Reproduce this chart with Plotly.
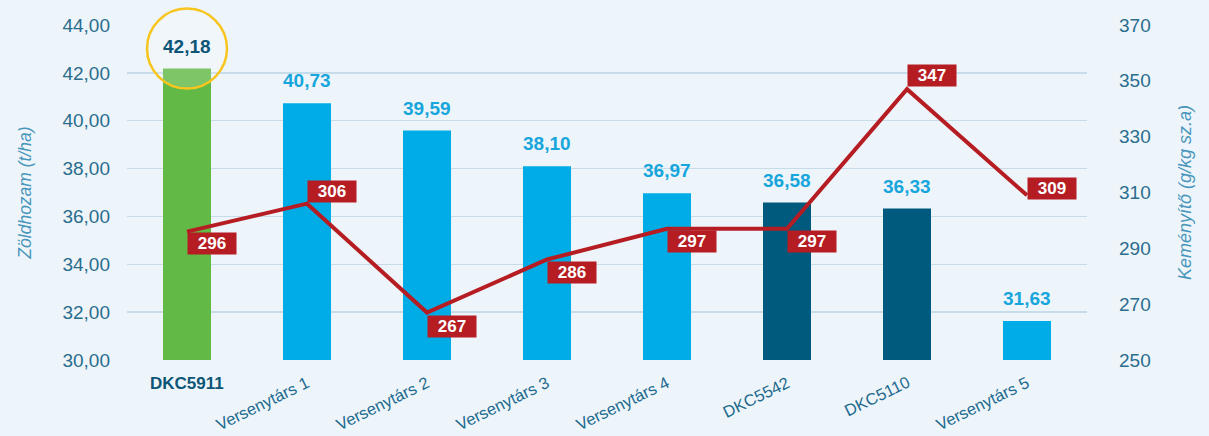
import plotly.graph_objects as go

categories = ["DKC5911", "Versenytárs 1", "Versenytárs 2", "Versenytárs 3",
              "Versenytárs 4", "DKC5542", "DKC5110", "Versenytárs 5"]
yield_values = [42.18, 40.73, 39.59, 38.10, 36.97, 36.58, 36.33, 31.63]
starch_values = [296, 306, 267, 286, 297, 297, 347, 309]
left_ticks = [30, 32, 34, 36, 38, 40, 42, 44]
right_ticks = [250, 270, 290, 310, 330, 350, 370]

# styling (not data)
bar_colors = ["#62b946", "#00ace6", "#00ace6", "#00ace6", "#00ace6",
              "#005a7e", "#005a7e", "#00ace6"]
label_yshift = [-12, 12, -14, -13, -13, -13, 14, 7]

FONT = "Liberation Sans, Arial, Helvetica, sans-serif"
TICK_COLOR = "#2a6d8e"
RED = "#b51d23"
Y_RANGE = [30, 44]

fig = go.Figure()
fig.add_trace(go.Bar(x=categories, y=yield_values, marker=dict(color=bar_colors, line=dict(width=0)),
                     width=0.4, yaxis="y", showlegend=False, hoverinfo="skip"))
fig.add_trace(go.Scatter(x=categories, y=starch_values, mode="lines", yaxis="y2",
                         line=dict(color=RED, width=4), showlegend=False, hoverinfo="skip"))

fmt = lambda v: f"{v:.2f}".replace(".", ",")

# bar value labels
for i, (c, v) in enumerate(zip(categories, yield_values)):
    fig.add_annotation(x=c, y=v, xref="x", yref="y", text=f"<b>{fmt(v)}</b>",
                       showarrow=False, yanchor="bottom", yshift=10,
                       font=dict(family=FONT, size=19, color="#0d5577" if i == 0 else "#17a6dc"))

# line value labels
for c, v, ys in zip(categories, starch_values, label_yshift):
    fig.add_annotation(x=c, y=v, xref="x", yref="y2", text=f"<b>{v}</b>",
                       showarrow=False, xanchor="left", yanchor="middle", yshift=ys,
                       bgcolor=RED, width=46, height=19, borderpad=1, align="center",
                       font=dict(family=FONT, size=17, color="white"))

# x category labels
for i, c in enumerate(categories):
    if i == 0:
        fig.add_annotation(x=c, y=0, xref="x", yref="paper", text=f"<b>{c}</b>",
                           showarrow=False, yanchor="top", yshift=-12,
                           font=dict(family=FONT, size=17, color="#0d5577"))
    else:
        fig.add_annotation(x=c, y=0, xref="x", yref="paper", text=c, textangle=-26,
                           showarrow=False, xanchor="right", yanchor="top", xshift=8, yshift=-10,
                           font=dict(family=FONT, size=16.5, color="#1d6a8e"))

# highlight circle around first label (y in domain fraction so it is not clipped vertically)
frac = (yield_values[0] - Y_RANGE[0]) / (Y_RANGE[1] - Y_RANGE[0])
fig.add_shape(type="circle", xref="x", yref="y domain", xsizemode="pixel", ysizemode="pixel",
              xanchor=categories[0], yanchor=frac,
              x0=-40, x1=40, y0=-20, y1=60,
              line=dict(color="#f7c51e", width=2.5), fillcolor="rgba(255,255,255,0.18)")

fig.update_layout(
    width=1209, height=436,
    margin=dict(l=127, r=122, t=25, b=76),
    paper_bgcolor="#eef5fa", plot_bgcolor="rgba(0,0,0,0)",
    font=dict(family=FONT),
    bargap=0.6,
    hovermode=False,
    xaxis=dict(showticklabels=False, showgrid=False, zeroline=False, showline=False, ticks=""),
    yaxis=dict(range=Y_RANGE, tickvals=left_ticks,
               ticktext=[fmt(t) for t in left_ticks],
               showgrid=True, gridcolor="#c6dce9", gridwidth=1.5, zeroline=False,
               showline=False, ticks="", ticklabelstandoff=16,
               tickfont=dict(family=FONT, size=19, color=TICK_COLOR),
               title=dict(text="<i>Zöldhozam (t/ha)</i>", standoff=26,
                          font=dict(family=FONT, size=17.5, color="#4996bd"))),
    yaxis2=dict(range=[250, 370], tickvals=right_ticks, overlaying="y", side="right",
                showgrid=False, zeroline=False, showline=False, ticks="", ticklabelstandoff=31,
                tickfont=dict(family=FONT, size=19, color=TICK_COLOR),
                title=dict(text="<i>Keményítő (g/kg sz.a)</i>", standoff=28,
                           font=dict(family=FONT, size=18, color="#4996bd"))),
)

fig.write_html("out.html", config={"displayModeBar": False, "staticPlot": True},
               post_script="document.body.style.margin='0';")
